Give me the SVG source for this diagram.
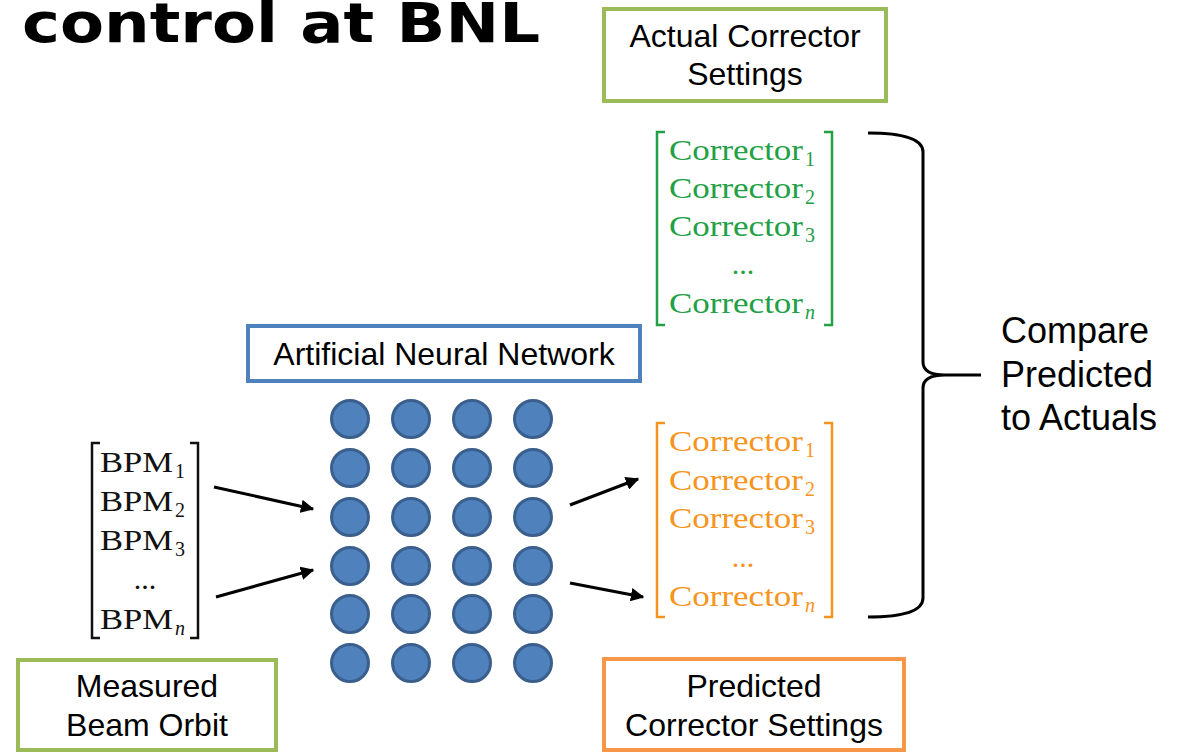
<svg xmlns="http://www.w3.org/2000/svg" width="1185" height="754" viewBox="0 0 1185 754">
<defs>
<style>
.sans{font-family:"Liberation Sans",Arial,sans-serif;fill:#000}
.lbl{font-size:32px;text-anchor:middle}
.serif{font-family:"Liberation Serif","Times New Roman",serif}
.mat{font-size:30px}
.sub{font-size:20px}
.green{fill:#22A045}
.orange{fill:#F7941D}
.black{fill:#111}
.node{fill:#4F81BD;stroke:#3A5F8C;stroke-width:3}
.conn{stroke:#000;stroke-width:3;fill:none}
</style>
<marker id="arr" viewBox="0 0 10 10" refX="9" refY="5" markerWidth="4.5" markerHeight="4.5" orient="auto" markerUnits="strokeWidth">
<path d="M0,0 L10,5 L0,10 z" fill="#000"/>
</marker>
</defs>
<rect width="1185" height="754" fill="#fff"/>

<text x="22" y="42" font-family="'DejaVu Sans',sans-serif" font-weight="bold" font-size="55" textLength="518" lengthAdjust="spacingAndGlyphs">control at BNL</text>

<g id="actual-box">
<rect x="604" y="9" width="282" height="92" fill="#fff" stroke="#9BBB59" stroke-width="4"/>
<text class="sans lbl" x="745" y="47">Actual Corrector</text>
<text class="sans lbl" x="745" y="85">Settings</text>
</g>

<g id="actual-matrix">
<path d="M665,132 H657 V325 H665 M824,132 H832 V325 H824" fill="none" stroke="#22A045" stroke-width="2.5"/>
<g class="serif green">
<text class="mat" x="669" y="160" textLength="134" lengthAdjust="spacingAndGlyphs">Corrector</text><text class="sub" x="805" y="166">1</text>
<text class="mat" x="669" y="198" textLength="134" lengthAdjust="spacingAndGlyphs">Corrector</text><text class="sub" x="805" y="204">2</text>
<text class="mat" x="669" y="236" textLength="134" lengthAdjust="spacingAndGlyphs">Corrector</text><text class="sub" x="805" y="242">3</text>
<text class="mat" x="743" y="274" text-anchor="middle">...</text>
<text class="mat" x="669" y="313" textLength="134" lengthAdjust="spacingAndGlyphs">Corrector</text><text class="sub" x="805" y="319" font-style="italic">n</text>
</g>
</g>

<g id="ann-box">
<rect x="248" y="326" width="392" height="55" fill="#fff" stroke="#4F81BD" stroke-width="4"/>
<text class="sans lbl" x="444" y="365">Artificial Neural Network</text>
</g>

<g id="network">
<circle class="node" cx="350" cy="419" r="18.5"/><circle class="node" cx="411" cy="419" r="18.5"/><circle class="node" cx="472" cy="419" r="18.5"/><circle class="node" cx="533" cy="419" r="18.5"/>
<circle class="node" cx="350" cy="468" r="18.5"/><circle class="node" cx="411" cy="468" r="18.5"/><circle class="node" cx="472" cy="468" r="18.5"/><circle class="node" cx="533" cy="468" r="18.5"/>
<circle class="node" cx="350" cy="517" r="18.5"/><circle class="node" cx="411" cy="517" r="18.5"/><circle class="node" cx="472" cy="517" r="18.5"/><circle class="node" cx="533" cy="517" r="18.5"/>
<circle class="node" cx="350" cy="566" r="18.5"/><circle class="node" cx="411" cy="566" r="18.5"/><circle class="node" cx="472" cy="566" r="18.5"/><circle class="node" cx="533" cy="566" r="18.5"/>
<circle class="node" cx="350" cy="614" r="18.5"/><circle class="node" cx="411" cy="614" r="18.5"/><circle class="node" cx="472" cy="614" r="18.5"/><circle class="node" cx="533" cy="614" r="18.5"/>
<circle class="node" cx="350" cy="663" r="18.5"/><circle class="node" cx="411" cy="663" r="18.5"/><circle class="node" cx="472" cy="663" r="18.5"/><circle class="node" cx="533" cy="663" r="18.5"/>
</g>

<g id="bpm-matrix">
<path d="M100,443 H92 V638 H100 M190,443 H198 V638 H190" fill="none" stroke="#111" stroke-width="2.5"/>
<g class="serif black">
<text class="mat" x="100" y="472" textLength="73" lengthAdjust="spacingAndGlyphs">BPM</text><text class="sub" x="175" y="478">1</text>
<text class="mat" x="100" y="511" textLength="73" lengthAdjust="spacingAndGlyphs">BPM</text><text class="sub" x="175" y="517">2</text>
<text class="mat" x="100" y="550" textLength="73" lengthAdjust="spacingAndGlyphs">BPM</text><text class="sub" x="175" y="556">3</text>
<text class="mat" x="145" y="589" text-anchor="middle">...</text>
<text class="mat" x="100" y="629" textLength="73" lengthAdjust="spacingAndGlyphs">BPM</text><text class="sub" x="175" y="635" font-style="italic">n</text>
</g>
</g>

<g id="predicted-matrix">
<path d="M665,423 H657 V617 H665 M824,423 H832 V617 H824" fill="none" stroke="#F7941D" stroke-width="2.5"/>
<g class="serif orange">
<text class="mat" x="669" y="451" textLength="134" lengthAdjust="spacingAndGlyphs">Corrector</text><text class="sub" x="805" y="457">1</text>
<text class="mat" x="669" y="490" textLength="134" lengthAdjust="spacingAndGlyphs">Corrector</text><text class="sub" x="805" y="496">2</text>
<text class="mat" x="669" y="528" textLength="134" lengthAdjust="spacingAndGlyphs">Corrector</text><text class="sub" x="805" y="534">3</text>
<text class="mat" x="743" y="567" text-anchor="middle">...</text>
<text class="mat" x="669" y="606" textLength="134" lengthAdjust="spacingAndGlyphs">Corrector</text><text class="sub" x="805" y="612" font-style="italic">n</text>
</g>
</g>

<g id="measured-box">
<rect x="18" y="660" width="258" height="90" fill="#fff" stroke="#9BBB59" stroke-width="4"/>
<text class="sans lbl" x="147" y="697">Measured</text>
<text class="sans lbl" x="147" y="736">Beam Orbit</text>
</g>

<g id="predicted-box">
<rect x="604" y="659" width="300" height="91" fill="#fff" stroke="#F79646" stroke-width="4"/>
<text class="sans lbl" x="754" y="697">Predicted</text>
<text class="sans lbl" x="754" y="736">Corrector Settings</text>
</g>

<g id="compare">
<text class="sans" font-size="36" x="1001" y="343">Compare</text>
<text class="sans" font-size="36" x="1001" y="387">Predicted</text>
<text class="sans" font-size="36" x="1001" y="430">to Actuals</text>
</g>

<g id="connectors">
<line class="conn" x1="214" y1="487" x2="313" y2="509" marker-end="url(#arr)"/>
<line class="conn" x1="216" y1="597" x2="313" y2="570" marker-end="url(#arr)"/>
<line class="conn" x1="570" y1="505" x2="638" y2="479" marker-end="url(#arr)"/>
<line class="conn" x1="570" y1="583" x2="643" y2="597" marker-end="url(#arr)"/>
<path class="conn" stroke-width="4" d="M868,133 Q923,133 923,152 L923,362 Q923,375 945,375 L981,375 M945,375 Q923,375 923,388 L923,598 Q923,617 868,617"/>
</g>
</svg>
